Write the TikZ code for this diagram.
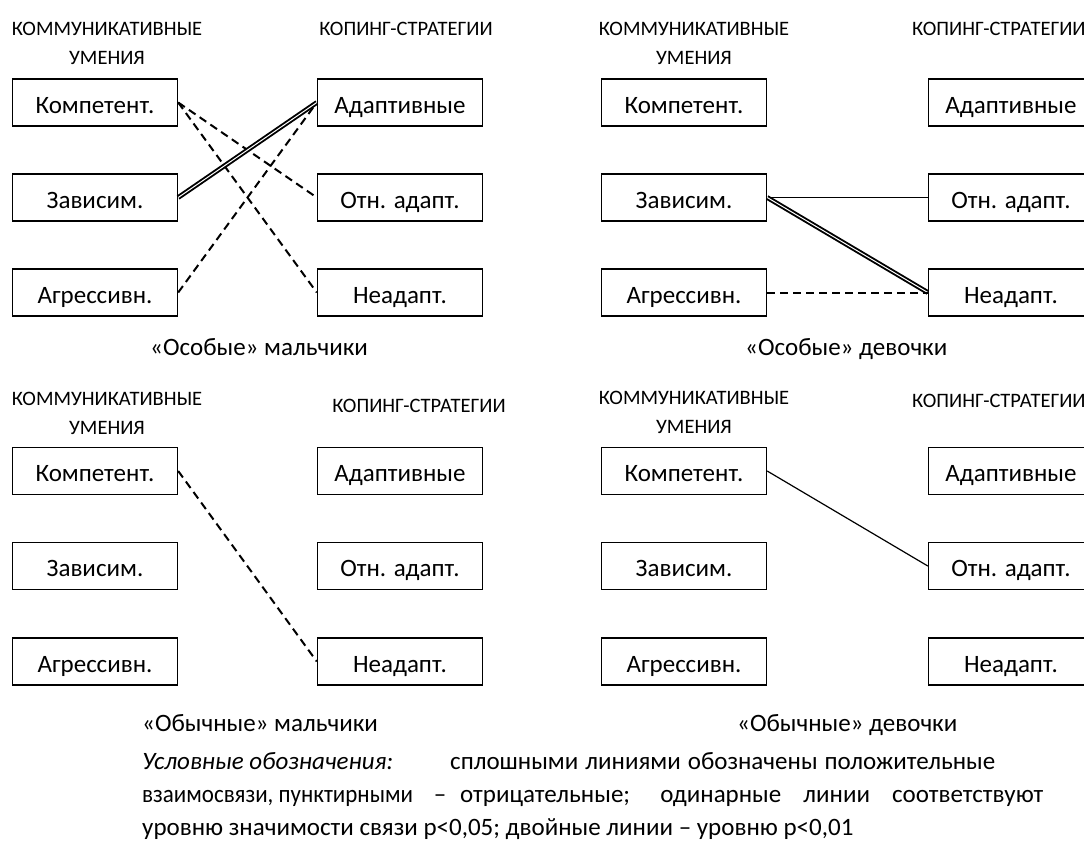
\documentclass[tikz,border=0pt]{standalone}
\usepackage{fontspec}
\setmainfont{Carlito}
\usepackage{graphicx}
\usepackage{tikz}
\usetikzlibrary{positioning}

\tikzset{
  ubox/.style={draw,line width=1.4pt,minimum width=165pt,minimum height=47pt,inner sep=0pt,
    text height=21pt,text depth=0pt,font=\fontsize{25}{30}\selectfont},
  head/.style={inner sep=0pt,align=center,font=\fontsize{20.5}{29}\selectfont},
  txt/.style={inner sep=0pt,anchor=west,text height=17pt,text depth=6pt,
    font=\fontsize{25}{30}\selectfont},
  neglink/.style={dashed,line width=2pt,dash pattern=on 8pt off 5pt},
  poslink/.style={line width=1.2pt},
  duallink/.style={double,line width=1.9pt,double distance=1pt},
}

\begin{document}
\begin{tikzpicture}[x=1pt,y=-1pt]
  \path[use as bounding box,clip] (0,0) rectangle (1084,855);

  % особые мальчики
  \node[head] (h1) at (107,43.5) {КОММУНИКАТИВНЫЕ\\УМЕНИЯ};
  \node[head] (s1) at (406,29) {КОПИНГ-СТРАТЕГИИ};
  \node[ubox] (k1) at (95,102.5) {Компетент.};
  \node[ubox] (z1) at (95,197.5) {Зависим.};
  \node[ubox] (a1) at (95,292.5) {Агрессивн.};
  \node[ubox] (ad1) at (400,102.5) {Адаптивные};
  \node[ubox] (ot1) at (400,197.5) {Отн. адапт.};
  \node[ubox] (ne1) at (400,292.5) {Неадапт.};
  \node[txt] (c1) at (150,350) {«Особые» мальчики};
  \draw[neglink](k1.east)--(ot1.west);
  \draw[neglink](k1.east)--(ne1.west);
  \draw[neglink](a1.east)--(ad1.west);
  \draw[duallink](z1.east)--(ad1.west);

  % особые девочки
  \node[head] (h2) at (694,43) {КОММУНИКАТИВНЫЕ\\УМЕНИЯ};
  \node[head,anchor=west] (s2) at (912,29) {КОПИНГ-СТРАТЕГИИ};
  \node[ubox] (k2) at (684,102.5) {Компетент.};
  \node[ubox] (z2) at (684,197.5) {Зависим.};
  \node[ubox] (a2) at (684,292.5) {Агрессивн.};
  \node[ubox] (ad2) at (1011,102.5) {Адаптивные};
  \node[ubox] (ot2) at (1011,197.5) {Отн. адапт.};
  \node[ubox] (ne2) at (1011,292.5) {Неадапт.};
  \node[txt] (c2) at (745,350) {«Особые» девочки};
  \draw[poslink](z2.east)--(ot2.west);
  \draw[duallink](z2.east)--(ne2.west);
  \draw[neglink](a2.east)--(ne2.west);

  % обычные мальчики
  \node[head] (h3) at (107,413) {КОММУНИКАТИВНЫЕ\\УМЕНИЯ};
  \node[head] (s3) at (419,406) {КОПИНГ-СТРАТЕГИИ};
  \node[ubox] (k3) at (95,471) {Компетент.};
  \node[ubox] (z3) at (95,566) {Зависим.};
  \node[ubox] (a3) at (95,661.5) {Агрессивн.};
  \node[ubox] (ad3) at (400,471) {Адаптивные};
  \node[ubox] (ot3) at (400,566) {Отн. адапт.};
  \node[ubox] (ne3) at (400,661.5) {Неадапт.};
  \node[txt] (c3) at (142,726) {«Обычные» мальчики};
  \draw[neglink](k3.east)--(ne3.west);

  % обычные девочки
  \node[head] (h4) at (694,412) {КОММУНИКАТИВНЫЕ\\УМЕНИЯ};
  \node[head,anchor=west] (s4) at (912,401) {КОПИНГ-СТРАТЕГИИ};
  \node[ubox] (k4) at (684,471) {Компетент.};
  \node[ubox] (z4) at (684,566) {Зависим.};
  \node[ubox] (a4) at (684,661.5) {Агрессивн.};
  \node[ubox] (ad4) at (1011,471) {Адаптивные};
  \node[ubox] (ot4) at (1011,566) {Отн. адапт.};
  \node[ubox] (ne4) at (1011,661.5) {Неадапт.};
  \node[txt] (c4) at (737,726) {«Обычные» девочки};
  \draw[poslink](k4.east)--(ot4.west);

  % условные обозначения
  \node[txt] (l1) at (142,764) {\itshape Условные обозначения:};
  \node[txt] (l1b) at (450,764) {\makebox[545pt][s]{сплошными линиями обозначены положительные}};
  \node[txt] (l2) at (142,797) {\scalebox{0.92}[1]{взаимосвязи, пунктирными}};
  \node[txt,anchor=center] (l2b) at (440,797) {–};
  \node[txt] (l2c) at (460,797) {\makebox[583pt][s]{отрицательные; одинарные линии соответствуют}};
  \node[txt] (l3) at (142,830) {уровню значимости связи p<0,05; двойные линии – уровню p<0,01};
\end{tikzpicture}
\end{document}
